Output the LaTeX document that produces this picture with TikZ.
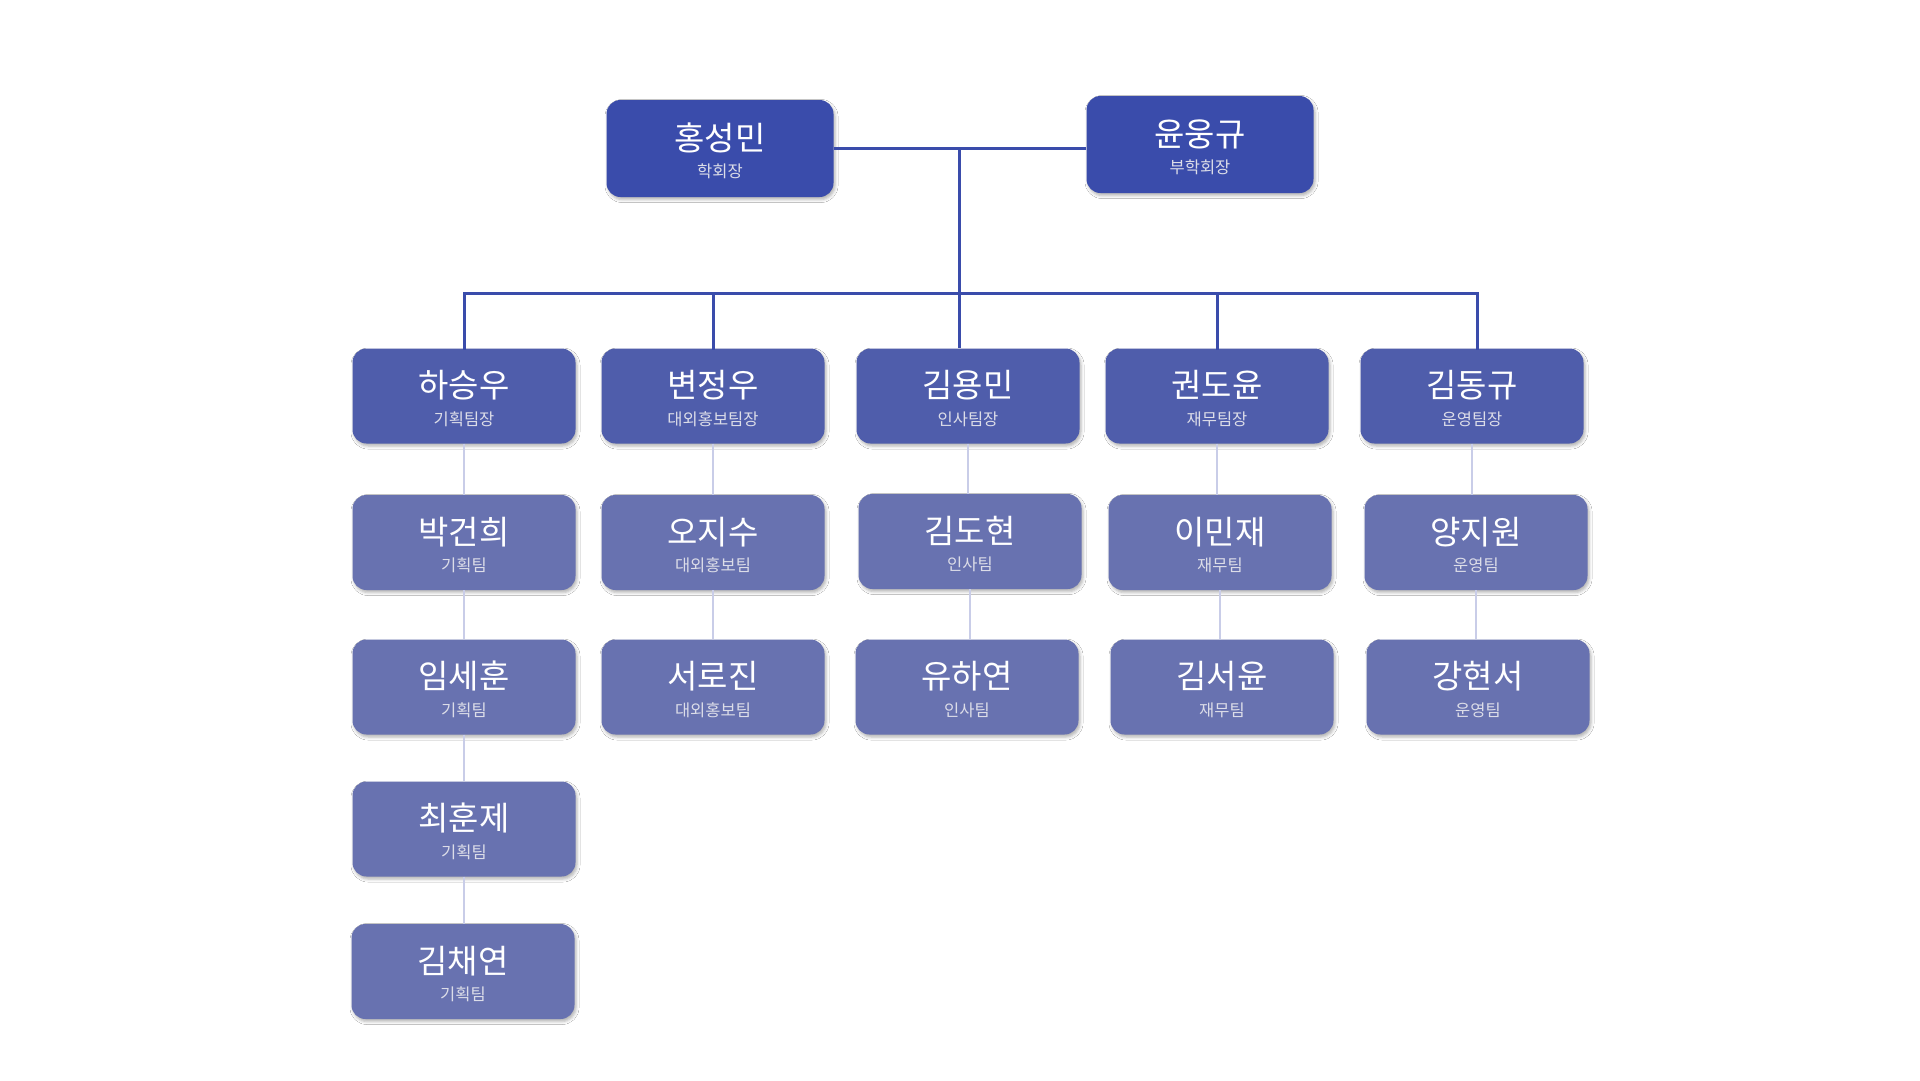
\documentclass[tikz,border=0pt]{standalone}
\usepackage{fontspec}
\setmainfont{Noto Sans CJK KR}
\usetikzlibrary{shadows.blur}
\definecolor{topc}{HTML}{3A4CAB}
\definecolor{leadc}{HTML}{4F5DAB}
\definecolor{memc}{HTML}{6872B0}
\definecolor{busc}{HTML}{3A4CAB}
\definecolor{thinc}{HTML}{C9CDE8}
\definecolor{rolec}{HTML}{DCDDE8}
\tikzset{
  basebox/.style={rounded corners=14pt, minimum width=223pt, minimum height=95pt, inner sep=0pt, draw=none,
     blur shadow={shadow xshift=1.5pt, shadow yshift=-2.5pt, shadow blur radius=3pt, shadow opacity=30}},
  topbox/.style={basebox, fill=topc, minimum width=227pt, minimum height=97pt},
  leadbox/.style={basebox, fill=leadc},
  membox/.style={basebox, fill=memc},
  nametext/.style={text=white, font=\fontsize{33}{36}\selectfont, inner sep=0pt},
  roletext/.style={text=rolec, font=\fontsize{16.5}{19}\selectfont, inner sep=0pt},
  busline/.style={draw=busc, line width=3pt},
  thinline/.style={draw=thinc, line width=2pt},
}
\newcommand\orgbox[6]{%
  \node[#4] (#1) at (#2,#3) {};
  \node[nametext, anchor=base] (#1-n) at ([yshift=-1.5pt]#1.center) {#5};
  \node[roletext, anchor=base] (#1-r) at ([yshift=-29pt]#1.center) {#6};
}
\begin{document}
\begin{tikzpicture}[x=1pt,y=-1pt]
\useasboundingbox[fill=white] (0,0) rectangle (1920,1080);
\coordinate (j) at (959,148);
\coordinate (bus) at (959,293);
% boxes
\orgbox{hong}{720}{148.5}{topbox}{홍성민}{학회장}
\orgbox{yoon}{1200}{144.5}{topbox}{윤웅규}{부학회장}

\orgbox{l1}{464}{396}{leadbox}{하승우}{기획팀장}
\orgbox{l2}{713}{396}{leadbox}{변정우}{대외홍보팀장}
\orgbox{l3}{968}{396}{leadbox}{김용민}{인사팀장}
\orgbox{l4}{1217}{396}{leadbox}{권도윤}{재무팀장}
\orgbox{l5}{1472}{396}{leadbox}{김동규}{운영팀장}

\orgbox{a2}{464}{542.5}{membox}{박건희}{기획팀}
\orgbox{b2}{713}{542.5}{membox}{오지수}{대외홍보팀}
\orgbox{c2}{970}{541.5}{membox}{김도현}{인사팀}
\orgbox{d2}{1220}{542.5}{membox}{이민재}{재무팀}
\orgbox{e2}{1476}{542.5}{membox}{양지원}{운영팀}

\orgbox{a3}{464}{687}{membox}{임세훈}{기획팀}
\orgbox{b3}{713}{687}{membox}{서로진}{대외홍보팀}
\orgbox{c3}{967}{687}{membox}{유하연}{인사팀}
\orgbox{d3}{1222}{687}{membox}{김서윤}{재무팀}
\orgbox{e3}{1478}{687}{membox}{강현서}{운영팀}

\orgbox{a4}{464}{829}{membox}{최훈제}{기획팀}
\orgbox{a5}{463}{971.5}{membox}{김채연}{기획팀}

% top connectors
\draw[busline] (hong.east |- j) -- (yoon.west |- j);
\draw[busline] (j) -- (j |- l3.north);
\draw[busline, line cap=rect] (l1.north) |- (bus);
\draw[busline, line cap=rect] (l2.north) |- (bus);
\draw[busline, line cap=rect] (l4.north) |- (bus);
\draw[busline, line cap=rect] ([xshift=5pt]l5.north) |- (bus);
% member connectors
\foreach \u/\v in {l1/a2,a2/a3,a3/a4,a4/a5,l2/b2,b2/b3,l3/c2,c2/c3,l4/d2,d2/d3,l5/e2,e2/e3} {
  \draw[thinline] (\u.south) -- (\u.south |- \v.north);
}
\end{tikzpicture}
\end{document}
